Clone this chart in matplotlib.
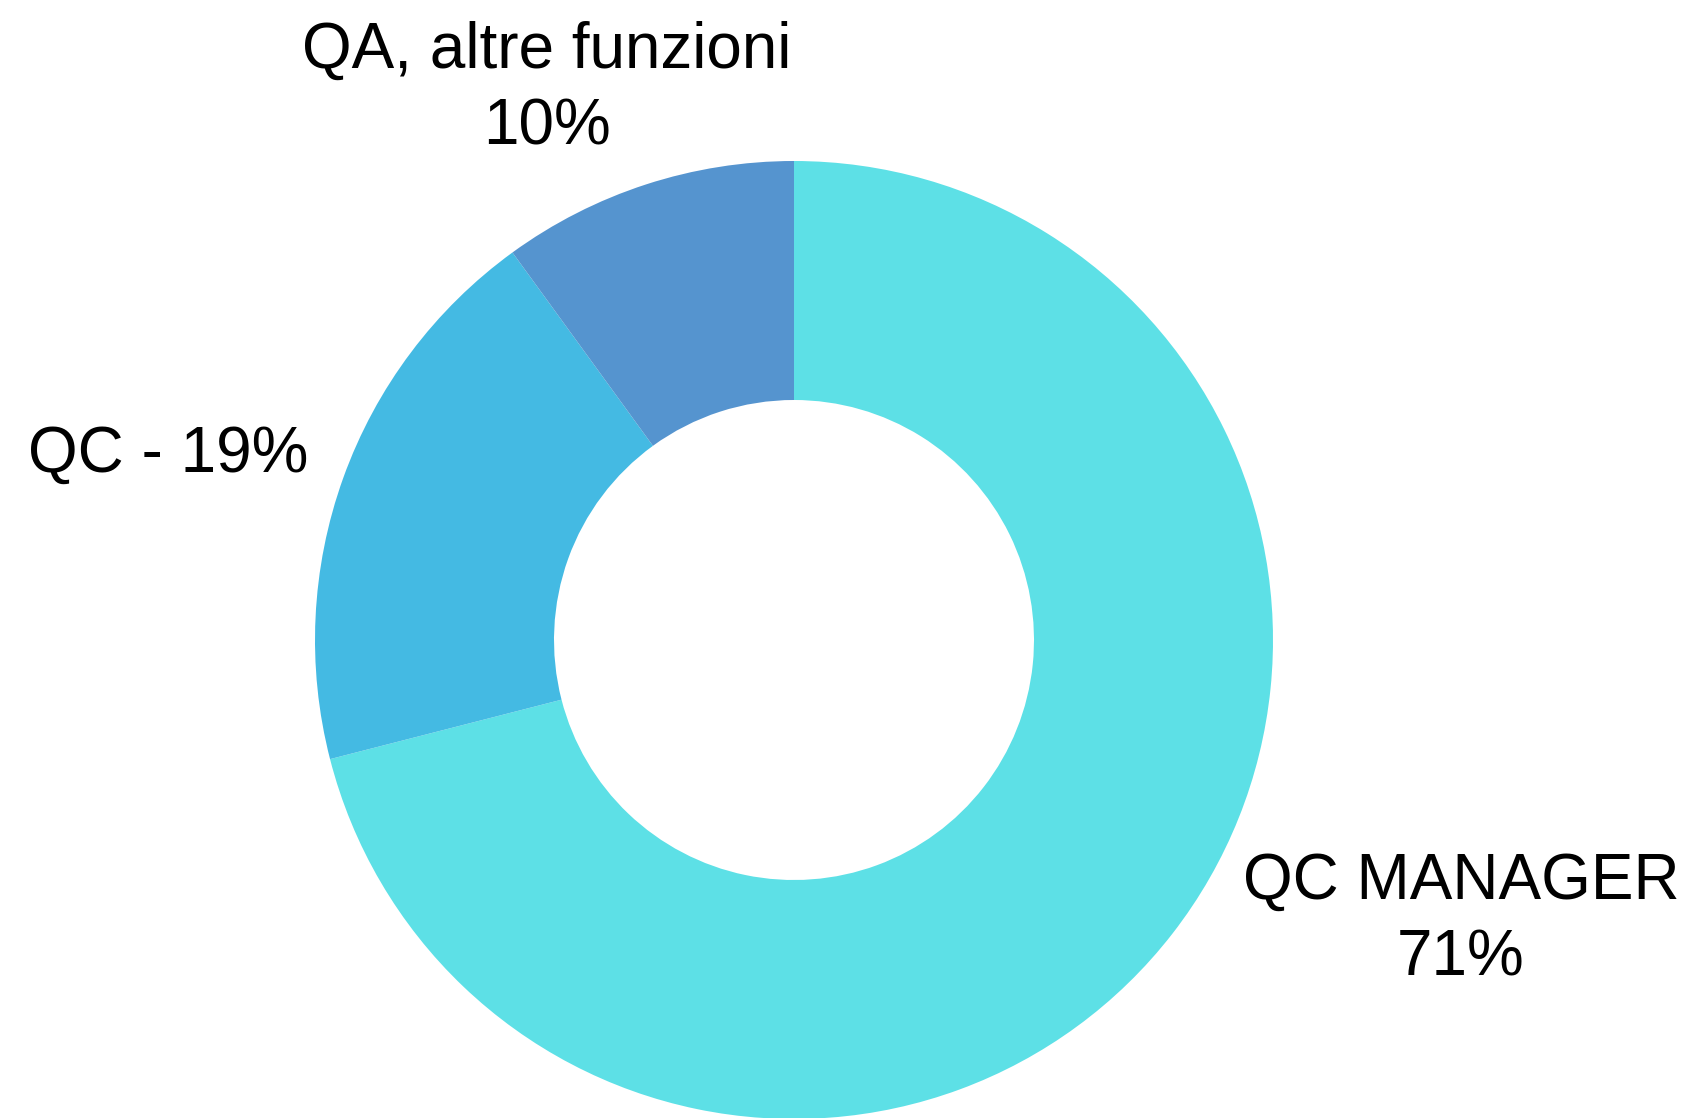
import matplotlib.pyplot as plt

labels = ['QC MANAGER\n71%', 'QC - 19%', 'QA, altre funzioni\n10%']
values = [71, 19, 10]
colors = ['#5DE0E6', '#44BAE3', '#5594CF']
# label centres in pixel coords (x, y from top)
label_pos = [(1461, 920), (168, 455), (547, 89)]

W, H = 1694, 1118
fig = plt.figure(figsize=(W / 100, H / 100), dpi=100)
ax = fig.add_axes([0, 0, 1, 1])

ax.pie(values, colors=colors, startangle=90, counterclock=False,
       center=(794, H - 640), radius=479,
       wedgeprops=dict(width=239, linewidth=0), frame=True)
ax.set_xlim(0, W)
ax.set_ylim(0, H)
ax.set_aspect('equal')
ax.axis('off')

for lab, (x, y) in zip(labels, label_pos):
    ax.text(x, H - y, lab, ha='center', va='center', fontsize=46,
            family='Liberation Sans', linespacing=1.36, color='black')

fig.savefig('out.png', dpi=100)
